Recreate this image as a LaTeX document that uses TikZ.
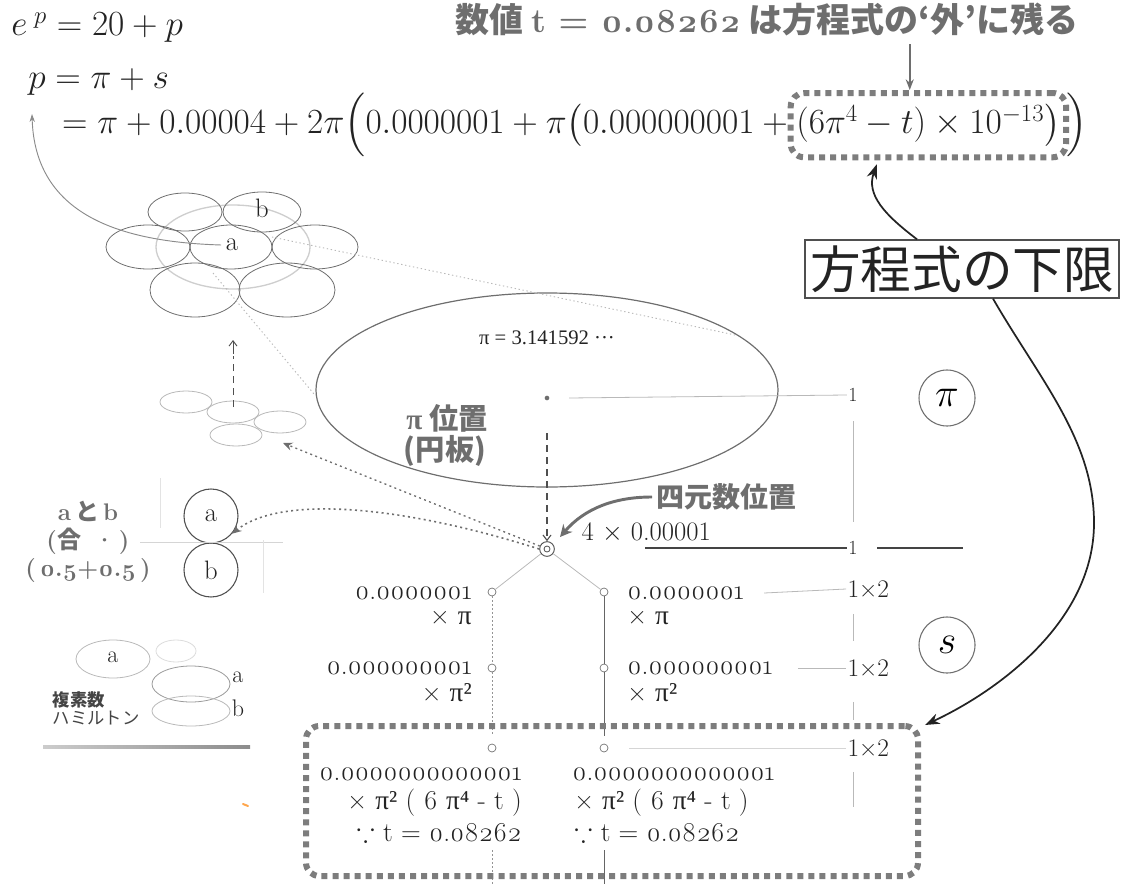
\RequirePackage{fix-cm}
\documentclass[tikz,border=0pt]{standalone}
\usepackage{amsmath}
\usepackage{amssymb}
\usepackage{fontspec}
\newfontfamily\jp{Noto Sans CJK JP}
\newfontfamily\osf{Latin Modern Roman}[Numbers=OldStyle]
\newfontfamily\grk{Liberation Serif}
\usetikzlibrary{arrows.meta,calc,fit}

\definecolor{ink}{RGB}{35,35,35}
\definecolor{pencil}{RGB}{110,110,110}
\definecolor{faint}{RGB}{185,185,185}
\definecolor{sqgray}{RGB}{125,125,125}

\tikzset{
  sqdots/.style={draw=sqgray, line width=4.5pt, dash pattern=on 4.5pt off 3.8pt, rounded corners=10pt},
  knot/.style={circle, draw=pencil, line width=0.5pt, inner sep=0pt, minimum size=6pt},
  guide/.style={draw=faint, line width=0.6pt},
  tick/.style={font=\fontsize{15}{18}\selectfont, text=ink, inner sep=1pt},
  num/.style={font=\osf\fontsize{20.5}{24}\selectfont, text=ink, inner sep=0pt},
  eqn/.style={font=\fontsize{26.5}{32}\selectfont, text=ink, inner sep=0pt, anchor=base west},
  puck/.style={draw=pencil, line width=0.6pt},
  tag/.style={circle, draw=pencil, line width=0.8pt, minimum size=42pt, inner sep=0pt, font=\fontsize{30}{30}\selectfont},
}

\begin{document}
\begin{tikzpicture}[x=0.75pt,y=0.75pt,yscale=-1,xscale=1]
\useasboundingbox (0,0) rectangle (1130,884);

% Equations
\node[eqn] (epow) at (11,36) {$e^{\;p} = 20 + p$};
\node[eqn] (pdef) at (28,89) {$p = \pi + s$};
\node[eqn] (pexp) at (52,134) {$\displaystyle {} = \pi + 0.00004 + 2\pi\Bigl(0.0000001 + \pi\bigl(0.000000001 + {}$};
\node[eqn] (ttail) at (pexp.base east) {$(6\pi^4 - t) \times 10^{-13}\bigr)$};
\node[eqn] (tclose) at (ttail.base east) {$\,\Bigr)$};
\node[sqdots, fit=(ttail), inner xsep=4pt, inner ysep=8pt] (tframe) {};

% Note on t
\node[anchor=base west, inner sep=0pt, text=pencil, font=\jp\bfseries\fontsize{25.5}{28}\selectfont] (note) at (455,33) {数値 {\osf\bfseries t = 0.08262} は方程式の‘外’に残る};
\coordinate (outer) at ($(tframe.north west)+(122,-46)$);
\draw[pencil, line width=1.5pt, -{Stealth[length=8pt,width=6pt]}] (outer) -- (outer |- tframe.north);

% Lower bound box and its arrows
\node[draw=ink!80, line width=1.3pt, inner sep=4pt, text=ink, font=\jp\fontsize{38}{44}\selectfont] (lowbound) at (962,269) {方程式の下限};
\draw[ink, line width=1.3pt, -{Stealth[length=11pt,width=8pt]}] ($(lowbound.north)+(-45,0)$) .. controls (885,215) and (866,195) .. ($(tframe.south west)+(89,4)$);

% Tags
\node[tag] (cpi) at (947,398) {$\pi$};
\node[tag] (cs) at (947,645) {$s$};

% Disc of pi
\draw[pencil, line width=0.9pt] (547,390) ellipse [x radius=231, y radius=97];
\node[font=\grk\fontsize{15.5}{18}\selectfont, text=ink] (pival) at (547,338) {π = 3.141592 ···};
\node[circle, fill=pencil, inner sep=0pt, minimum size=3.5pt] (pidot) at (547,398) {};
\node[font=\jp\bfseries\fontsize{22}{26}\selectfont, text=pencil] (pipos) at (447,418) {{\grk\bfseries π} 位置};
\node[font=\jp\bfseries\fontsize{22}{26}\selectfont, text=pencil] (disc) at (445,451) {(円板)};

% Quaternion point
\node[circle, draw=ink!80, line width=0.7pt, minimum size=11pt, inner sep=0pt] (quat) at (547,549) {};
\node[circle, draw=ink!80, line width=0.6pt, minimum size=4.5pt, inner sep=0pt] (quatcore) at (quat) {};
\draw[ink!80, line width=0.8pt, dash pattern=on 5pt off 4pt, -{Straight Barb[length=4pt,width=6pt]}] ($(pidot)+(0,35)$) -- (quat.north);
\node[anchor=west, font=\jp\bfseries\fontsize{21}{24}\selectfont, text=pencil] (quatlbl) at (652,497) {四元数位置};
\draw[pencil, line width=2.2pt, -{Stealth[length=9pt,width=9pt]}] (quatlbl.west) .. controls (615,497) and (585,508) .. ($(quat)+(13,-12)$);
\node[anchor=west, font=\fontsize{20}{24}\selectfont, text=ink] (quatval) at (577,533) {4 $\times$ 0.00001};

% Scale column
\node[tick] (one1) at (853,395) {1};
\node[tick] (one2) at (853,548) {1};
\coordinate (lead) at (645,548);
\coordinate (trail) at (963,548);
\draw[guide] ($(pidot)+(22,0)$) -- (one1.west);
\draw[guide] ($(one1.south)+(0,18)$) -- ($(one2.north)+(0,-18)$);
\draw[ink!85, line width=0.9pt] (lead) -- (one2.west);
\draw[ink!85, line width=0.9pt] ($(one2.east)+(18,0)$) -- (trail);

% Tree below the quaternion point
\node[knot] (l1) at (492,592) {};
\node[knot] (r1) at (604,592) {};
\node[knot] (l2) at (492,668) {};
\node[knot] (r2) at (604,668) {};
\node[knot] (l3) at (492,748) {};
\node[knot] (r3) at (604,748) {};
\draw[guide] (quat) -- (l1);
\draw[guide] (quat) -- (r1);
\draw[faint!80!black, line width=0.6pt, dash pattern=on 1.5pt off 1.5pt] (l1) -- (l2) (l2) -- ($(l3)+(0,-14)$);
\draw[ink!70, line width=0.7pt] (r1) -- (r2) (r2) -- ($(r3)+(0,-12)$);
\coordinate (lfoot) at (492,884);
\coordinate (rfoot) at (604,884);
\draw[faint!80!black, line width=0.6pt, dash pattern=on 1.5pt off 1.5pt] ($(lfoot)+(0,-34)$) -- (lfoot);
\draw[ink!70, line width=0.7pt] ($(rfoot)+(0,-34)$) -- (rfoot);

\node[num, anchor=east] (l1a) at (472,593) {0.0000001};
\node[num, anchor=east] (l1b) at (472,618) {× {\grk π}};
\node[num, anchor=east] (l2a) at (472,668) {0.000000001};
\node[num, anchor=east] (l2b) at (472,693) {× {\grk π²}};
\node[num, anchor=west] (r1a) at (627,593) {0.0000001};
\node[num, anchor=west] (r1b) at (627,618) {× {\grk π}};
\node[num, anchor=west] (r2a) at (627,668) {0.000000001};
\node[num, anchor=west] (r2b) at (627,693) {× {\grk π²}};

\node[tick, anchor=west, font=\fontsize{19}{22}\selectfont] (m1) at (846,589) {1×2};
\node[tick, anchor=west, font=\fontsize{19}{22}\selectfont] (m2) at (846,668) {1×2};
\node[tick, anchor=west, font=\fontsize{19}{22}\selectfont] (m3) at (846,748) {1×2};
\draw[guide] ($(r1a.east)+(20,0)$) -- (m1.west);
\draw[guide] ($(r2a.east)+(25,0)$) -- (m2.west);
\draw[faint!60, line width=0.5pt] ($(r3)+(25,0)$) -- (m3.west);
\draw[guide] ($(m1.south west)+(7,15)$) -- ($(m1.south west)+(7,42)$);
\draw[guide] ($(m2.south west)+(7,24)$) -- ($(m2.south west)+(7,42)$);
\draw[guide] ($(m3.south west)+(7,14)$) -- ($(m3.south west)+(7,49)$);

% Remainder frame
\coordinate (sf1) at (306,726);
\coordinate (sf2) at (918,876);
\node[sqdots, fit=(sf1)(sf2), inner sep=0pt] (sframe) {};
\node[num, anchor=east] (l4a) at (522,774) {0.0000000000001};
\node[num, anchor=east] (l4b) at (522,803) {× {\grk π²} ( 6 {\grk π⁴} - t )};
\node[num, anchor=east] (l4c) at (522,832) {$\because$ t = 0.08262};
\node[num, anchor=west] (r4a) at (572,774) {0.0000000000001};
\node[num, anchor=west] (r4b) at (574,803) {× {\grk π²} ( 6 {\grk π⁴} - t )};
\node[num, anchor=west] (r4c) at (574,832) {$\because$ t = 0.08262};
\draw[ink, line width=1.3pt, -{Stealth[length=11pt,width=8pt]}] ($(lowbound.south)+(31,0)$) .. controls (1040,380) and (1094,440) .. (1094,523) .. controls (1094,620) and (1000,690) .. ($(sframe.north east)+(4,2)$);

% Cluster of discs
\draw[faint!70, line width=1pt] (233,247) ellipse [x radius=77, y radius=42];
\draw[puck] (185,212) ellipse [x radius=37, y radius=19];
\draw[puck] (262,212) ellipse [x radius=39, y radius=20];
\draw[puck] (148,247) ellipse [x radius=42, y radius=22];
\draw[puck] (231,247) ellipse [x radius=41, y radius=22];
\draw[puck] (315,247) ellipse [x radius=43, y radius=22];
\draw[puck] (195,290) ellipse [x radius=45, y radius=27];
\draw[puck] (287,290) ellipse [x radius=48, y radius=27];
\node[font=\fontsize{20}{24}\selectfont, text=ink] (alab) at (232,245) {a};
\node[font=\fontsize{20}{24}\selectfont, text=ink] (blab) at (262,208) {b};
\coordinate (pmark) at (32,114);
\draw[pencil!80, line width=0.7pt, -{Stealth[length=6pt,width=4pt]}] (alab.west) .. controls (120,242) and (35,215) .. (pmark);
\draw[faint, line width=0.7pt, dash pattern=on 1pt off 2pt] (272,237) -- (735,335);
\draw[faint, line width=0.7pt, dash pattern=on 1pt off 2pt] (213,273) -- (314,394);

% Small discs
\draw[faint, line width=0.6pt] (186,402) ellipse [x radius=26, y radius=11];
\draw[faint, line width=0.6pt] (233,412) ellipse [x radius=26, y radius=11];
\draw[faint, line width=0.6pt] (280,422) ellipse [x radius=26, y radius=11];
\draw[faint, line width=0.6pt] (236,435) ellipse [x radius=26, y radius=11];
\draw[ink!80, line width=0.7pt, dash pattern=on 5pt off 4pt] (233,407) -- (233,356);
\draw[ink!80, line width=0.7pt, -{Straight Barb[length=4pt,width=6pt]}] (233,354) -- (233,340);
\coordinate (smalltip) at (283,443);
\draw[pencil, line width=1pt, dash pattern=on 1.5pt off 2.5pt, -{Stealth[length=7pt,width=6pt]}] (quat) -- (smalltip);

% a and b
\node[circle, draw=ink!80, line width=0.8pt, minimum size=40.5pt, inner sep=0pt, font=\fontsize{20}{24}\selectfont, text=ink] (ca) at (211,516) {a};
\node[circle, draw=ink!80, line width=0.8pt, minimum size=40.5pt, inner sep=0pt, font=\fontsize{20}{24}\selectfont, text=ink] (cb) at (211,570) {b};
\draw[faint!60, line width=0.5pt] (140,542) -- (283,542);
\draw[faint!40, line width=0.5pt] (160,478) -- (160,528);
\draw[faint!40, line width=0.5pt] (263,540) -- (263,593);
\draw[pencil, line width=1.2pt, dash pattern=on 1.5pt off 2.5pt, -{Stealth[length=7pt,width=6pt]}] (quat.west) .. controls (400,505) and (280,495) .. (ca.-40);
\node[font=\bfseries\fontsize{18}{22}\selectfont, text=pencil] (abpair) at (88,511) {a\,{\jp\bfseries と}\,b};
\node[font=\bfseries\fontsize{18}{22}\selectfont, text=pencil] (abjoin) at (88,541) {({\jp\bfseries 合}\, ·\,)};
\node[font=\osf\bfseries\fontsize{18}{22}\selectfont, text=pencil] (abhalf) at (88,571) {(\,0.5+0.5\,)};

% Complex and Hamilton
\draw[faint, line width=0.6pt] (113,659) ellipse [x radius=37, y radius=19];
\draw[faint!50, line width=0.6pt] (176,651) ellipse [x radius=20, y radius=11];
\node[font=\fontsize{18}{22}\selectfont, text=ink] (cplxa) at (113,657) {a};
\draw[pencil!70, line width=0.6pt] (191,684) ellipse [x radius=39, y radius=18];
\draw[faint, line width=0.6pt] (191,711) ellipse [x radius=39, y radius=15];
\node[font=\fontsize{18}{22}\selectfont, text=ink] (hama) at (238,677) {a};
\node[font=\fontsize{18}{22}\selectfont, text=ink] (hamb) at (238,708) {b};
\node[anchor=west, font=\jp\bfseries\fontsize{13}{15}\selectfont, text=ink!85] (cplx) at (48,700) {複素数};
\node[anchor=west, font=\jp\fontsize{13}{15}\selectfont, text=ink!85] (hamil) at (48,718) {ハミルトン};
\shade[left color=black!20, right color=black!45] (43,745.5) rectangle (250,748.5);
\draw[orange!70, line width=1.5pt, line cap=round] (243,804) -- (248,806);

\end{tikzpicture}
\end{document}
